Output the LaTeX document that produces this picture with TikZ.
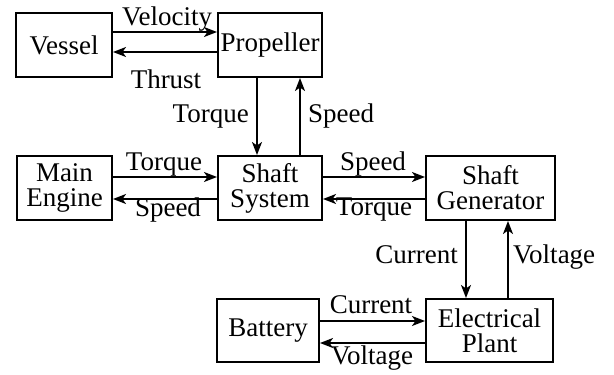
\documentclass[tikz,border=0pt]{standalone}
\usepackage{fontspec}
\setmainfont{Liberation Serif}
\usetikzlibrary{arrows.meta}
\begin{document}
\begin{tikzpicture}[x=1pt,y=-1pt,
  blk/.style={draw,line width=2pt,inner sep=0pt,align=center,font=\fontsize{27}{25}\selectfont},
  arr/.style={line width=1.7pt,-{Stealth[length=13pt,width=10pt,inset=3.5pt]}},
  lbl/.style={inner sep=0pt,anchor=base,font=\fontsize{27}{25}\selectfont}]
\useasboundingbox (0,0) rectangle (614,375);
% blocks
\node[blk,minimum width=96pt,minimum height=64pt] (vessel) at (64,45) {Vessel};
\node[blk,minimum width=104pt,minimum height=64pt] (prop) at (270,45) {Propeller};
\node[blk,minimum width=95pt,minimum height=64pt] (engine) at (64.5,188) {Main\\Engine};
\node[blk,minimum width=104pt,minimum height=64pt] (shaft) at (270,188) {Shaft\\System};
\node[blk,minimum width=129pt,minimum height=64pt] (gen) at (490.5,188) {Shaft\\Generator};
\node[blk,minimum width=102pt,minimum height=63pt] (batt) at (268,330.5) {Battery};
\node[blk,minimum width=127pt,minimum height=63pt] (plant) at (489.5,330.5) {Electrical\\Plant};
% vessel <-> propeller
\draw[arr] (vessel.east |- 0,32) -- (prop.west |- 0,32);
\draw[arr] (prop.west |- 0,52) -- (vessel.east |- 0,52);
\node[lbl] (lvel) at (167,25) {Velocity};
\node[lbl] (lthr) at (166,88) {Thrust};
% propeller <-> shaft
\draw[arr] (prop.south -| 257,0) -- (shaft.north -| 257,0);
\draw[arr] (shaft.north -| 300,0) -- (prop.south -| 300,0);
\node[lbl,anchor=base east] (ltq1) at (249,122) {Torque};
\node[lbl,anchor=base west] (lsp1) at (308,122) {Speed};
% engine <-> shaft
\draw[arr] (engine.east |- 0,177) -- (shaft.west |- 0,177);
\draw[arr] (shaft.west |- 0,199) -- (engine.east |- 0,199);
\node[lbl] (ltq2) at (164,170) {Torque};
\node[lbl] (lsp2) at (168,216) {Speed};
% shaft <-> generator
\draw[arr] (shaft.east |- 0,177) -- (gen.west |- 0,177);
\draw[arr] (gen.west |- 0,199) -- (shaft.east |- 0,199);
\node[lbl] (lsp3) at (373,170) {Speed};
\node[lbl] (ltq3) at (374,215) {Torque};
% generator <-> plant
\draw[arr] (gen.south -| 466,0) -- (plant.north -| 466,0);
\draw[arr] (plant.north -| 508,0) -- (gen.south -| 508,0);
\node[lbl,anchor=base east] (lcur1) at (458,263) {Current};
\node[lbl,anchor=base west] (lvol1) at (513,263) {Voltage};
% battery <-> plant
\draw[arr] (batt.east |- 0,321) -- (plant.west |- 0,321);
\draw[arr] (plant.west |- 0,343) -- (batt.east |- 0,343);
\node[lbl] (lcur2) at (371,313) {Current};
\node[lbl] (lvol2) at (372,364) {Voltage};
\end{tikzpicture}
\end{document}
